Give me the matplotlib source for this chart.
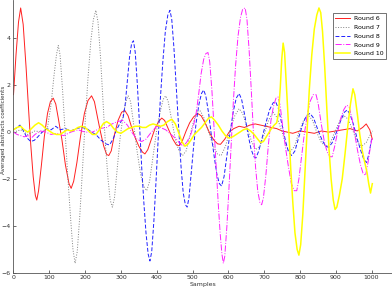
import numpy as np
import matplotlib
matplotlib.use("Agg")
import matplotlib.pyplot as plt

# values (sample index, averaged coefficient)
r6_x = [0, 7, 14, 20, 27, 35, 42, 48, 55, 61, 65, 70, 78, 86, 95, 103, 111, 118, 125, 135, 145, 155, 161, 168, 177,
        187, 198, 208, 218, 226, 235, 243, 252, 260, 266, 273, 282, 292, 302, 311, 320, 330, 340, 350, 360, 367,
        375, 385, 395, 405, 414, 422, 432, 445, 455, 463, 472, 482, 492, 503, 514, 524, 535, 548, 560, 570, 578,
        590, 602, 615, 630, 645, 660, 675, 690, 705, 720, 735, 750, 765, 780, 800, 820, 840, 860, 880, 900, 920,
        940, 960, 975, 985, 995, 1002]
r6_y = [1.6, 3.3, 4.7, 5.3, 4.6, 2.8, 1.0, -0.5, -1.9, -2.7, -2.9, -2.5, -1.4, -0.2, 0.8, 1.3, 1.45, 1.2, 0.6, -0.3,
        -1.4, -2.2, -2.4, -2.1, -1.3, -0.2, 0.8, 1.35, 1.55, 1.3, 0.6, 0.0, -0.6, -0.95, -1.0, -0.8, -0.1, 0.5,
        0.85, 0.92, 0.7, 0.2, -0.25, -0.6, -0.85, -0.93, -0.75, -0.3, 0.15, 0.45, 0.6, 0.5, 0.15, -0.3, -0.55,
        -0.58, -0.35, 0.05, 0.4, 0.65, 0.8, 0.7, 0.4, -0.05, -0.35, -0.5, -0.52, -0.3, 0.0, 0.15, 0.25, 0.2, 0.3,
        0.35, 0.3, 0.25, 0.2, 0.15, 0.05, 0.0, -0.05, 0.05, 0.0, -0.05, 0.05, 0.0, 0.05, 0.1, 0.15, 0.05, 0.2,
        0.35, 0.1, -0.3]

r7_x = [0, 20, 40, 60, 80, 95, 105, 113, 120, 125, 130, 137, 145, 152, 160, 166, 172, 178, 185, 193, 200, 208, 216,
        223, 230, 236, 243, 250, 257, 264, 270, 276, 282, 290, 298, 306, 314, 320, 327, 335, 345, 355, 363, 372,
        380, 390, 400, 410, 418, 425, 432, 442, 452, 462, 472, 482, 492, 502, 512, 522, 532, 545, 558, 570, 580,
        592, 605, 618, 630, 640, 652, 665, 676, 688, 700, 712, 725, 737, 750, 762, 772, 785, 797, 810, 822, 835,
        848, 860, 873, 885, 897, 910, 923, 935, 948, 960, 972, 985, 995, 1003]
r7_y = [0.0, 0.1, -0.1, 0.05, 0.0, 0.2, 1.2, 2.4, 3.3, 3.7, 3.3, 1.8, -0.2, -2.0, -3.8, -5.0, -5.6, -5.1, -3.6, -1.5,
        0.4, 2.3, 3.9, 4.8, 5.2, 4.7, 3.2, 1.3, -0.6, -2.0, -2.9, -3.2, -2.8, -1.5, -0.2, 0.7, 1.3, 1.55, 1.3, 0.4,
        -0.8, -1.8, -2.3, -2.5, -2.1, -1.0, 0.1, 0.9, 1.4, 1.55, 1.3, 0.5, -0.3, -0.8, -1.0, -0.8, -0.2, 0.4, 0.85,
        0.9, 0.6, 0.0, -0.6, -0.95, -1.0, -0.6, 0.1, 0.7, 1.0, 0.8, 0.2, -0.4, -0.75, -0.6, -0.1, 0.5, 0.85, 0.6,
        0.0, -0.6, -0.85, -0.6, 0.0, 0.5, 0.75, 0.5, -0.05, -0.45, -0.6, -0.45, 0.0, 0.45, 0.7, 0.55, 0.05, -0.4,
        -0.6, -0.45, -0.15, 0.05]

r8_x = [0, 10, 18, 28, 38, 48, 58, 68, 80, 92, 105, 118, 130, 145, 160, 175, 190, 205, 218, 230, 245, 258, 268, 278,
        288, 298, 306, 312, 318, 324, 330, 335, 340, 346, 352, 358, 364, 370, 376, 381, 386, 392, 398, 404, 410,
        417, 424, 431, 437, 442, 448, 455, 462, 468, 474, 480, 485, 490, 496, 503, 510, 518, 525, 531, 537, 545,
        553, 561, 568, 575, 581, 588, 596, 605, 614, 622, 630, 637, 646, 655, 663, 671, 677, 685, 695, 705, 715,
        725, 732, 740, 750, 760, 768, 777, 786, 797, 808, 818, 828, 838, 850, 862, 872, 880, 890, 902, 914, 924,
        932, 940, 950, 960, 970, 978, 986, 993, 1000]
r8_y = [0.1, 0.2, 0.3, 0.05, -0.25, -0.4, -0.35, -0.2, 0.0, 0.15, 0.1, 0.25, 0.1, 0.15, 0.05, 0.15, 0.2, 0.15, 0.0,
        -0.1, -0.35, -0.5, -0.55, -0.3, 0.1, 0.4, 0.6, 1.2, 2.2, 3.2, 3.8, 3.9, 3.4, 2.0, 0.3, -1.5, -3.0, -4.3,
        -5.2, -5.5, -5.1, -3.8, -2.1, -0.3, 1.4, 3.0, 4.3, 5.0, 5.2, 4.8, 3.6, 1.8, 0.0, -1.5, -2.6, -3.1, -3.2,
        -2.8, -1.8, -0.6, 0.4, 1.2, 1.65, 1.8, 1.55, 0.8, -0.2, -1.1, -1.8, -2.2, -2.3, -1.9, -1.0, 0.0, 0.9, 1.45,
        1.65, 1.4, 0.7, -0.1, -0.7, -1.05, -1.1, -0.8, -0.2, 0.4, 0.95, 1.25, 1.3, 1.0, 0.3, -0.4, -0.85, -1.0,
        -0.8, -0.2, 0.35, 0.7, 0.8, 0.6, 0.1, -0.35, -0.6, -0.65, -0.45, 0.0, 0.5, 0.85, 0.95, 0.75, 0.3, -0.3,
        -0.8, -1.15, -1.3, -0.9, -0.3]

r9_x = [0, 10, 20, 30, 40, 50, 60, 75, 90, 105, 120, 140, 160, 180, 200, 220, 240, 260, 275, 290, 305, 318, 330,
        345, 358, 370, 385, 400, 410, 425, 440, 455, 465, 475, 485, 495, 503, 510, 517, 524, 531, 537, 543, 548,
        554, 560, 566, 572, 577, 582, 586, 590, 596, 602, 608, 614, 620, 627, 634, 640, 647, 652, 658, 664, 670,
        676, 682, 688, 693, 698, 705, 712, 719, 726, 733, 739, 745, 752, 760, 768, 776, 784, 791, 797, 804, 812,
        820, 828, 837, 845, 851, 860, 868, 876, 884, 890, 897, 905, 913, 922, 930, 937, 945, 953, 961, 969, 976,
        983, 990, 997, 1002]
r9_y = [0.0, -0.1, -0.15, -0.2, -0.15, -0.25, -0.1, 0.05, 0.0, -0.1, -0.05, -0.15, 0.0, 0.1, 0.0, 0.0, 0.15, 0.2,
        0.35, 0.45, 0.5, 0.3, 0.0, -0.3, -0.4, -0.3, 0.0, 0.25, 0.2, 0.1, -0.1, -0.3, -0.5, -0.6, -0.4, -0.1, 0.3,
        0.8, 1.6, 2.5, 3.1, 3.35, 3.4, 3.0, 1.8, 0.2, -1.5, -3.1, -4.3, -5.2, -5.6, -5.3, -4.0, -2.3, -0.5, 1.3,
        2.8, 4.1, 4.9, 5.25, 5.3, 4.8, 3.5, 1.8, 0.0, -1.5, -2.5, -3.0, -3.1, -2.8, -1.8, -0.5, 0.5, 1.1, 1.45,
        1.5, 1.1, 0.2, -0.7, -1.5, -2.2, -2.5, -2.5, -2.0, -1.1, -0.1, 0.7, 1.3, 1.6, 1.6, 1.2, 0.3, -0.4, -0.85,
        -1.05, -1.05, -0.6, 0.0, 0.55, 0.95, 1.15, 1.1, 0.6, -0.1, -0.8, -1.4, -1.75, -1.85, -1.3, -0.6, -0.2]

r10_x = [0, 10, 20, 30, 40, 50, 60, 70, 80, 90, 100, 110, 120, 130, 140, 150, 160, 170, 180, 190, 200, 210, 220,
         230, 240, 250, 260, 270, 280, 290, 300, 310, 320, 330, 340, 350, 360, 370, 380, 390, 400, 410, 420, 430,
         442, 452, 462, 470, 479, 488, 497, 505, 515, 525, 535, 545, 553, 562, 572, 582, 592, 602, 612, 622, 632,
         642, 652, 662, 672, 682, 690, 698, 708, 718, 728, 735, 740, 745, 749, 753, 757, 762, 768, 774, 780, 786,
         792, 797, 802, 808, 814, 820, 826, 833, 840, 847, 853, 858, 863, 869, 875, 881, 887, 893, 898, 903, 910,
         918, 926, 934, 941, 948, 953, 960, 967, 974, 981, 987, 992, 997, 1002]
r10_y = [0.1, 0.2, 0.25, 0.1, 0.0, 0.15, 0.3, 0.4, 0.3, 0.15, 0.05, -0.05, -0.1, -0.1, 0.0, 0.1, 0.05, 0.1, 0.2,
         0.25, 0.2, 0.05, -0.1, -0.1, 0.1, 0.35, 0.45, 0.35, 0.15, 0.0, -0.05, 0.05, 0.15, 0.2, 0.25, 0.25, 0.2,
         0.2, 0.3, 0.35, 0.3, 0.25, 0.3, 0.45, 0.55, 0.35, -0.05, -0.4, -0.6, -0.5, -0.3, -0.1, 0.05, 0.2, 0.4,
         0.6, 0.65, 0.5, 0.3, 0.05, -0.15, -0.25, -0.2, -0.1, 0.0, 0.1, 0.15, 0.05, -0.1, -0.3, -0.45, -0.4, -0.15,
         0.1, 0.3, 0.4, 0.8, 1.9, 3.1, 3.8, 3.4, 2.0, 0.3, -1.5, -3.0, -4.3, -5.0, -5.25, -4.8, -3.5, -1.7, 0.1,
         1.8, 3.3, 4.4, 5.0, 5.3, 5.1, 4.3, 2.8, 1.0, -0.7, -2.0, -2.9, -3.3, -3.2, -2.7, -2.0, -0.9, 0.3, 1.2,
         1.85, 1.6, 0.8, -0.1, -0.8, -1.3, -1.7, -2.2, -2.6, -2.2]

labels = ['Round 6', 'Round 7', 'Round 8', 'Round 9', 'Round 10']

fig = plt.figure(figsize=(3.92, 2.92), dpi=100)
ax = fig.add_axes([13.5 / 392, 19.3 / 292, 1 - 13.5 / 392, 272.7 / 292])

ax.plot(r6_x, r6_y, color='#ff2020', lw=0.7, ls='-', label=labels[0])
ax.plot(r7_x, r7_y, color='#808080', lw=0.7, ls=':', label=labels[1])
ax.plot(r8_x, r8_y, color='#2020ff', lw=0.7, ls='--', dashes=(4, 2), label=labels[2])
ax.plot(r9_x, r9_y, color='#ff20ff', lw=0.7, ls='-.', label=labels[3])
ax.plot(r10_x, r10_y, color='#ffff00', lw=1.1, ls='-', label=labels[4])

ax.set_xlim(0, 1057)
ax.set_ylim(-6, 5.64)
ax.set_xticks(np.arange(0, 1001, 100))
ax.set_yticks([-6, -4, -2, 0, 2, 4])
ax.tick_params(direction='in', length=2, width=0.5, labelsize=4.5, pad=2, colors='#333333')
for s in ['top', 'right']:
    ax.spines[s].set_visible(False)
for s in ['left', 'bottom']:
    ax.spines[s].set_linewidth(0.6)
    ax.spines[s].set_color('#555555')

ax.set_xlabel('Samples', fontsize=4.5, labelpad=1, color='#333333')
ax.set_ylabel('Averaged abstracts coefficients', fontsize=4.1, color='#333333')
ax.yaxis.set_label_coords(-7.2 / 378.5, 0.525)

leg = ax.legend(loc='upper right', bbox_to_anchor=(386 / 392, 1 - 13 / 292), bbox_transform=fig.transFigure,
                fontsize=4.5, frameon=True, fancybox=False, handlelength=2.4, borderpad=0.45, labelspacing=0.55,
                handletextpad=0.5, borderaxespad=0)
leg.get_frame().set_edgecolor('#333333')
leg.get_frame().set_linewidth(0.6)

fig.savefig('out.png', dpi=100)
